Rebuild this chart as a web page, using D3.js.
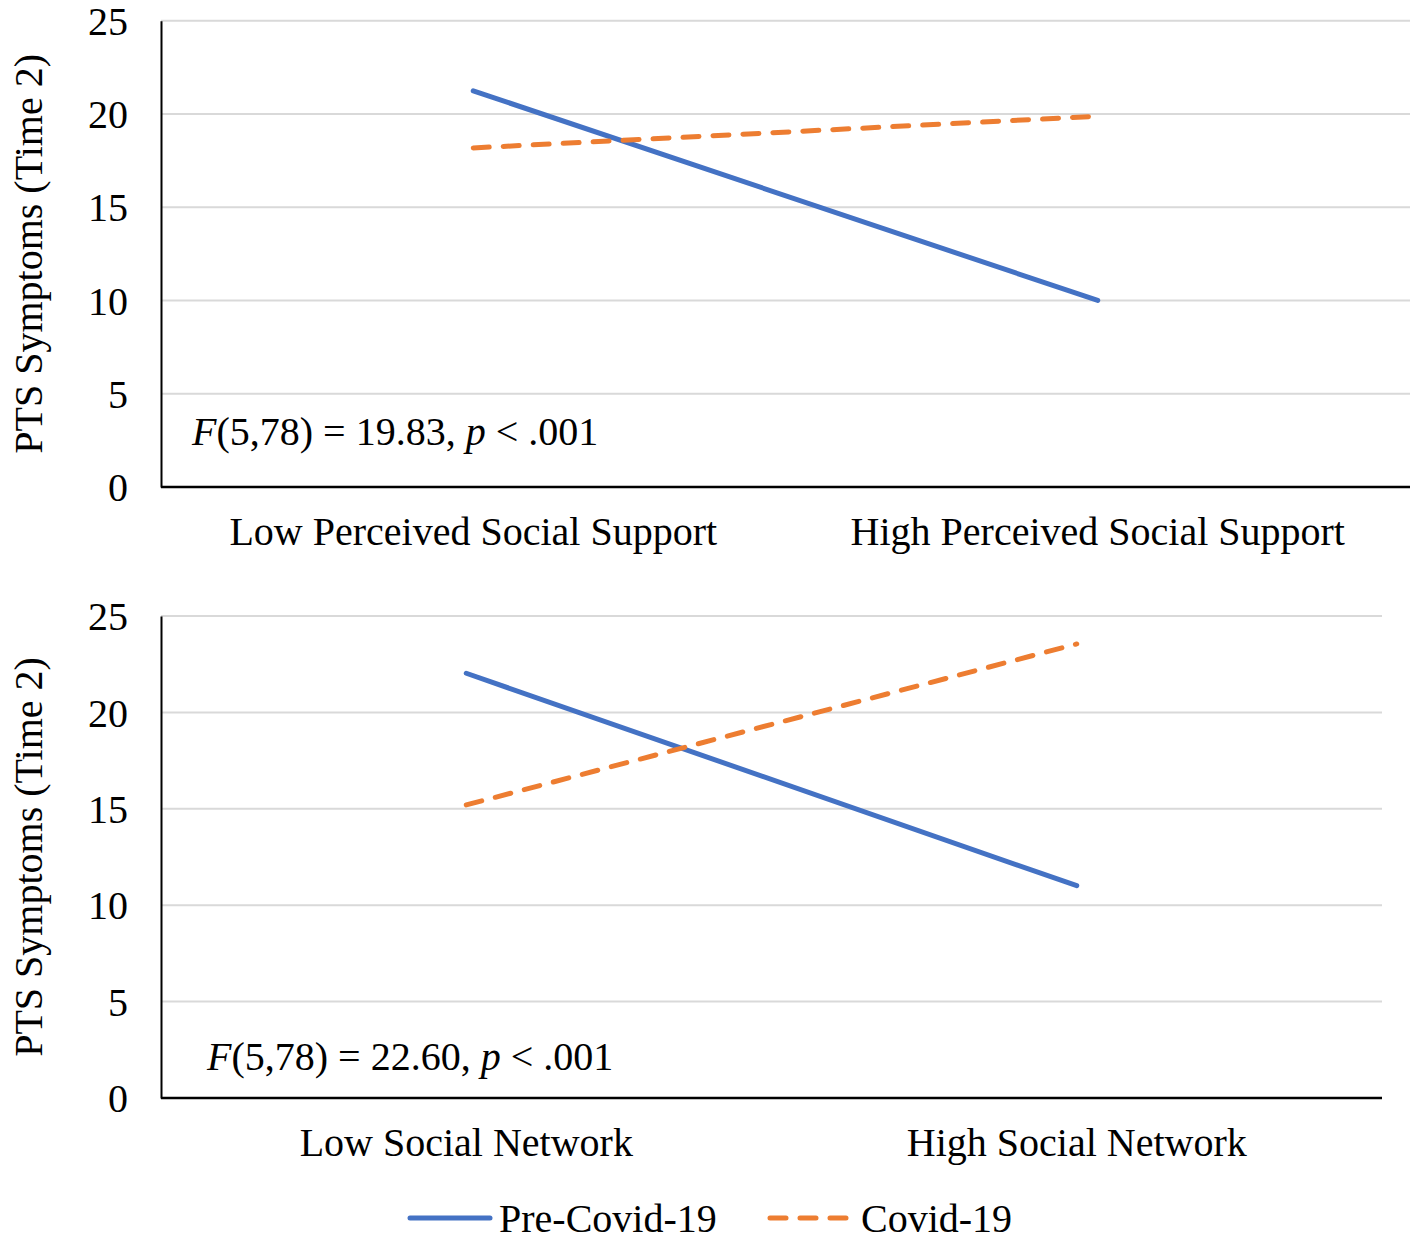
<!DOCTYPE html>
<html><head><meta charset="utf-8">
<script src="https://cdn.jsdelivr.net/npm/d3@7"></script>
<style>body{margin:0;background:#fff}svg{display:block}text{font-family:"Liberation Serif","Times New Roman",serif;fill:#000}</style>
</head><body>
<script>
const categoriesTop = ["Low Perceived Social Support", "High Perceived Social Support"];
const categoriesBottom = ["Low Social Network", "High Social Network"];
const preCovidTop = [21.24, 10.0];
const covidTop = [18.18, 19.88];
const preCovidBottom = [22.03, 11.01];
const covidBottom = [15.2, 23.55];
const yTicks = [0, 5, 10, 15, 20, 25];
const seriesNames = ["Pre-Covid-19", "Covid-19"];
const statsTop = {F: "(5,78) = 19.83, ", p: " < .001"};
const statsBottom = {F: "(5,78) = 22.60, ", p: " < .001"};

const W = 1418, H = 1241;
const FS = "40px";
const svg = d3.select("body").append("svg").attr("width", W).attr("height", H);
const blue = "#4472C4", orange = "#ED7D31";

function panel(cfg) {
  const g = svg.append("g");
  const x = d3.scaleBand().domain(cfg.cats).range([cfg.x0, cfg.x1]);
  const y = d3.scaleLinear().domain([0, 25]).range([cfg.y0, cfg.y1]);
  g.selectAll(".grid").data(yTicks.filter(t => t > 0)).join("line")
    .attr("x1", cfg.x0).attr("x2", cfg.x1)
    .attr("y1", d => y(d)).attr("y2", d => y(d))
    .attr("stroke", "#d9d9d9").attr("stroke-width", 2);
  const ya = g.append("g").attr("transform", `translate(${cfg.x0},0)`)
    .call(d3.axisLeft(y).tickValues(yTicks).tickSize(0).tickPadding(33));
  ya.select(".domain").attr("stroke", "#000").attr("stroke-width", 2);
  ya.selectAll("text").style("font-family", "Liberation Serif").style("font-size", FS).attr("dy", "0.34em");
  const xa = g.append("g").attr("transform", `translate(0,${cfg.y0})`)
    .call(d3.axisBottom(x).tickSize(0).tickPadding(30));
  xa.select(".domain").attr("stroke", "#000").attr("stroke-width", 2.5).attr("d", `M${cfg.x0},0H${cfg.x1}`);
  xa.selectAll("text").style("font-family", "Liberation Serif").style("font-size", FS);
  g.append("text").attr("transform", `translate(${cfg.tx},${(cfg.y0 + cfg.y1) / 2}) rotate(-90)`)
    .attr("text-anchor", "middle").attr("dy", "0.35em").style("font-size", FS)
    .text("PTS Symptoms (Time 2)");
  const line = d3.line().x((d, i) => x(cfg.cats[i]) + x.bandwidth() / 2).y(d => y(d));
  g.append("path").datum(cfg.pre).attr("d", line).attr("fill", "none")
    .attr("stroke", blue).attr("stroke-width", 5).attr("stroke-linecap", "round");
  g.append("path").datum(cfg.cov).attr("d", line).attr("fill", "none")
    .attr("stroke", orange).attr("stroke-width", 5).attr("stroke-linecap", "round")
    .attr("stroke-dasharray", "16,14");
  const t = g.append("text").attr("x", cfg.ax).attr("y", cfg.ay).style("font-size", FS);
  t.append("tspan").style("font-style", "italic").text("F");
  t.append("tspan").text(cfg.stats.F);
  t.append("tspan").style("font-style", "italic").text("p");
  t.append("tspan").text(cfg.stats.p);
}

panel({cats: categoriesTop, pre: preCovidTop, cov: covidTop, x0: 161, x1: 1410, y0: 487, y1: 20.7,
  tx: 28, ax: 192, ay: 445, stats: statsTop});
panel({cats: categoriesBottom, pre: preCovidBottom, cov: covidBottom, x0: 161, x1: 1382, y0: 1098, y1: 616,
  tx: 28, ax: 207, ay: 1070, stats: statsBottom});

const lg = svg.append("g");
const ly = 1218;
lg.append("line").attr("x1", 410).attr("x2", 490).attr("y1", ly).attr("y2", ly)
  .attr("stroke", blue).attr("stroke-width", 5).attr("stroke-linecap", "round");
lg.append("text").attr("x", 499).attr("y", ly).attr("dy", "0.35em").style("font-size", FS).text(seriesNames[0]);
lg.append("line").attr("x1", 770).attr("x2", 848).attr("y1", ly).attr("y2", ly)
  .attr("stroke", orange).attr("stroke-width", 5).attr("stroke-linecap", "round").attr("stroke-dasharray", "16,14");
lg.append("text").attr("x", 861).attr("y", ly).attr("dy", "0.35em").style("font-size", FS).text(seriesNames[1]);
</script>
</body></html>
